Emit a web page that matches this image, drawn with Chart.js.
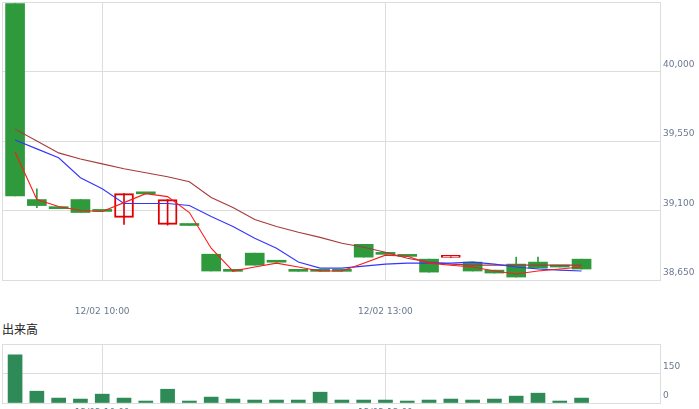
<!DOCTYPE html>
<html>
<head>
<meta charset="utf-8">
<script src="https://cdn.jsdelivr.net/npm/chart.js@4"></script>
<style>
  html, body { margin: 0; padding: 0; width: 699px; height: 409px; overflow: hidden; background: #fff; }
  #priceChart { position: absolute; left: 0; top: 0; }
  #volumeChart { position: absolute; left: 0; top: 342px; }
  #volTitle { position: absolute; left: 2px; top: 320px; font: 12px "Noto Sans CJK JP", sans-serif; line-height: 18px; color: #222; }
</style>
</head>
<body>
<canvas id="priceChart" width="699" height="320"></canvas>
<div id="volTitle">出来高</div>
<canvas id="volumeChart" width="699" height="90"></canvas>
<script>
// 10-minute candles, 12/02
const opens  = [40440, 39171, 39115, 39171, 39096, 39055, 39211, 39010, 39005, 38817, 38709, 38824, 38767, 38709,
                38709, 38709, 38881, 38818, 38805, 38785, 38797, 38766, 38714, 38753, 38766, 38736, 38785];
const closes = [39195, 39132, 39112, 39087, 39094, 39209, 39208, 39171, 39003, 38708, 38706, 38746, 38765, 38706,
                38706, 38706, 38798, 38816, 38803, 38701, 38800, 38708, 38695, 38669, 38727, 38734, 38721];
const highs  = [40440, 39241, 39115, 39171, 39096, 39209, 39211, 39171, 39005, 38817, 38709, 38824, 38767, 38709,
                38709, 38709, 38881, 38818, 38805, 38785, 38800, 38766, 38714, 38798, 38798, 38736, 38785];
const lows   = [39195, 39119, 39112, 39087, 39094, 39010, 39208, 39005, 39003, 38708, 38706, 38746, 38765, 38706,
                38706, 38706, 38798, 38816, 38803, 38701, 38797, 38708, 38695, 38669, 38727, 38734, 38721];

// moving average lines
const maShort = [39479, 39171, 39126, 39100, 39094, 39151, 39209, 39190, 39087, 38856, 38708, 38734, 38759, 38734,
                 38708, 38708, 38759, 38811, 38804, 38759, 38746, 38734, 38708, 38689, 38708, 38721, 38734];
const maMid   = [39556, 39499, 39441, 39312, 39241, 39145, 39145, 39145, 39132, 39061, 38997, 38920, 38856, 38766,
                 38727, 38727, 38740, 38753, 38759, 38759, 38759, 38766, 38753, 38734, 38721, 38714, 38708];
const maLong  = [39627, 39550, 39473, 39434, 39402, 39370, 39344, 39319, 39286, 39184, 39119, 39042, 38997, 38959,
                 38926, 38888, 38862, 38830, 38791, 38766, 38753, 38746, 38746, 38746, 38746, 38746, 38746];

const volumes = [245, 60, 25, 20, 45, 25, 10, 70, 10, 30, 20, 15, 15, 15, 55, 15, 15, 15, 10, 15, 20, 15, 20, 35, 50, 10, 25];

// x axis labels (slot index -> label)
const timeTickSlots = [4, 17];
const timeTickLabels = ['12/02 10:00', '12/02 13:00'];
const priceTicks = [38650, 39100, 39550, 40000];
const volumeTicks = [0, 150];

const GREEN = '#2f9a3c';
const RED = '#e00000';
const GRID = '#dddddd';
const TICK_COLOR = '#6b7890';
const TICK_FONT = { family: 'DejaVu Sans', size: 9 };

const isUp = i => closes[i] > opens[i];

// box around the plot area
const frame = {
  id: 'frame',
  beforeDatasetsDraw(chart) {
    const a = chart.chartArea;
    const ctx = chart.ctx;
    ctx.save();
    ctx.strokeStyle = GRID;
    ctx.lineWidth = 1;
    ctx.strokeRect(Math.round(a.left) + 0.5, Math.round(a.top) + 0.5,
      Math.round(a.right - a.left), Math.round(a.bottom - a.top));
    ctx.restore();
  }
};

function timeAxis(padding, height) {
  return {
    type: 'linear',
    min: -0.6,
    max: 29.6,
    offset: false,
    afterBuildTicks: axis => { axis.ticks = timeTickSlots.map(v => ({ value: v })); },
    afterFit: axis => { axis.height = height; axis.paddingLeft = 0; axis.paddingRight = 0; },
    ticks: {
      autoSkip: false,
      maxRotation: 0,
      padding: padding,
      color: TICK_COLOR,
      font: TICK_FONT,
      callback: v => timeTickLabels[timeTickSlots.indexOf(v)]
    },
    grid: { color: GRID, drawTicks: false, offset: false },
    border: { color: GRID }
  };
}

const idx = opens.map((_, i) => i);

new Chart(document.getElementById('priceChart'), {
  data: {
    datasets: [
      {
        type: 'line',
        data: idx.map(i => ({ x: i, y: maShort[i] })),
        borderColor: '#ff1a1a',
        borderWidth: 1.1,
        pointRadius: 0,
        order: 0
      },
      {
        type: 'line',
        data: idx.map(i => ({ x: i, y: maMid[i] })),
        borderColor: '#3434ff',
        borderWidth: 1.1,
        pointRadius: 0,
        order: 0
      },
      {
        type: 'line',
        data: idx.map(i => ({ x: i, y: maLong[i] })),
        borderColor: '#a83a3a',
        borderWidth: 1.1,
        pointRadius: 0,
        order: 0
      },
      {
        // candle bodies
        type: 'bar',
        data: idx.map(i => ({ x: i, y: [opens[i], closes[i]] })),
        barThickness: 19,
        minBarLength: 2,
        grouped: false,
        borderSkipped: false,
        backgroundColor: c => isUp(c.dataIndex) ? 'rgba(255,255,255,0)' : GREEN,
        borderColor: c => isUp(c.dataIndex) ? RED : GREEN,
        borderWidth: c => isUp(c.dataIndex) ? 1.3 : 0,
        order: 2
      },
      {
        // wicks
        type: 'bar',
        data: idx.map(i => ({ x: i, y: [lows[i], highs[i]] })),
        barThickness: 1,
        grouped: false,
        backgroundColor: c => isUp(c.dataIndex) ? RED : GREEN,
        order: 3
      }
    ]
  },
  options: {
    responsive: false,
    animation: false,
    layout: { padding: { top: 2, left: 2, right: 0, bottom: 0 } },
    plugins: { legend: { display: false }, tooltip: { enabled: false } },
    scales: {
      x: timeAxis(26, 40),
      y: {
        position: 'right',
        min: 38650,
        max: 40450,
        afterFit: axis => { axis.width = 39; axis.paddingTop = 0; axis.paddingBottom = 0; },
        ticks: {
          stepSize: 450,
          padding: 3,
          labelOffset: -7,
          color: TICK_COLOR,
          font: TICK_FONT,
          callback: v => priceTicks.includes(v) ? v.toLocaleString('en-US') : ''
        },
        grid: { color: GRID, drawTicks: false },
        border: { color: GRID }
      }
    }
  },
  plugins: [frame]
});

new Chart(document.getElementById('volumeChart'), {
  type: 'bar',
  data: {
    datasets: [{
      data: idx.map(i => ({ x: i, y: volumes[i] })),
      backgroundColor: '#2e8b57',
      barThickness: 14
    }]
  },
  options: {
    responsive: false,
    animation: false,
    layout: { padding: { top: 2, left: 2, right: 0, bottom: 0 } },
    plugins: { legend: { display: false }, tooltip: { enabled: false } },
    scales: {
      x: timeAxis(4, 29),
      y: {
        position: 'right',
        min: 0,
        max: 300,
        afterFit: axis => { axis.width = 39; axis.paddingTop = 0; axis.paddingBottom = 0; },
        ticks: {
          stepSize: 150,
          padding: 3,
          labelOffset: -7,
          color: TICK_COLOR,
          font: TICK_FONT,
          callback: v => volumeTicks.includes(v) ? v.toLocaleString('en-US') : ''
        },
        grid: { color: GRID, drawTicks: false },
        border: { color: GRID }
      }
    }
  },
  plugins: [frame]
});
</script>
</body>
</html>
